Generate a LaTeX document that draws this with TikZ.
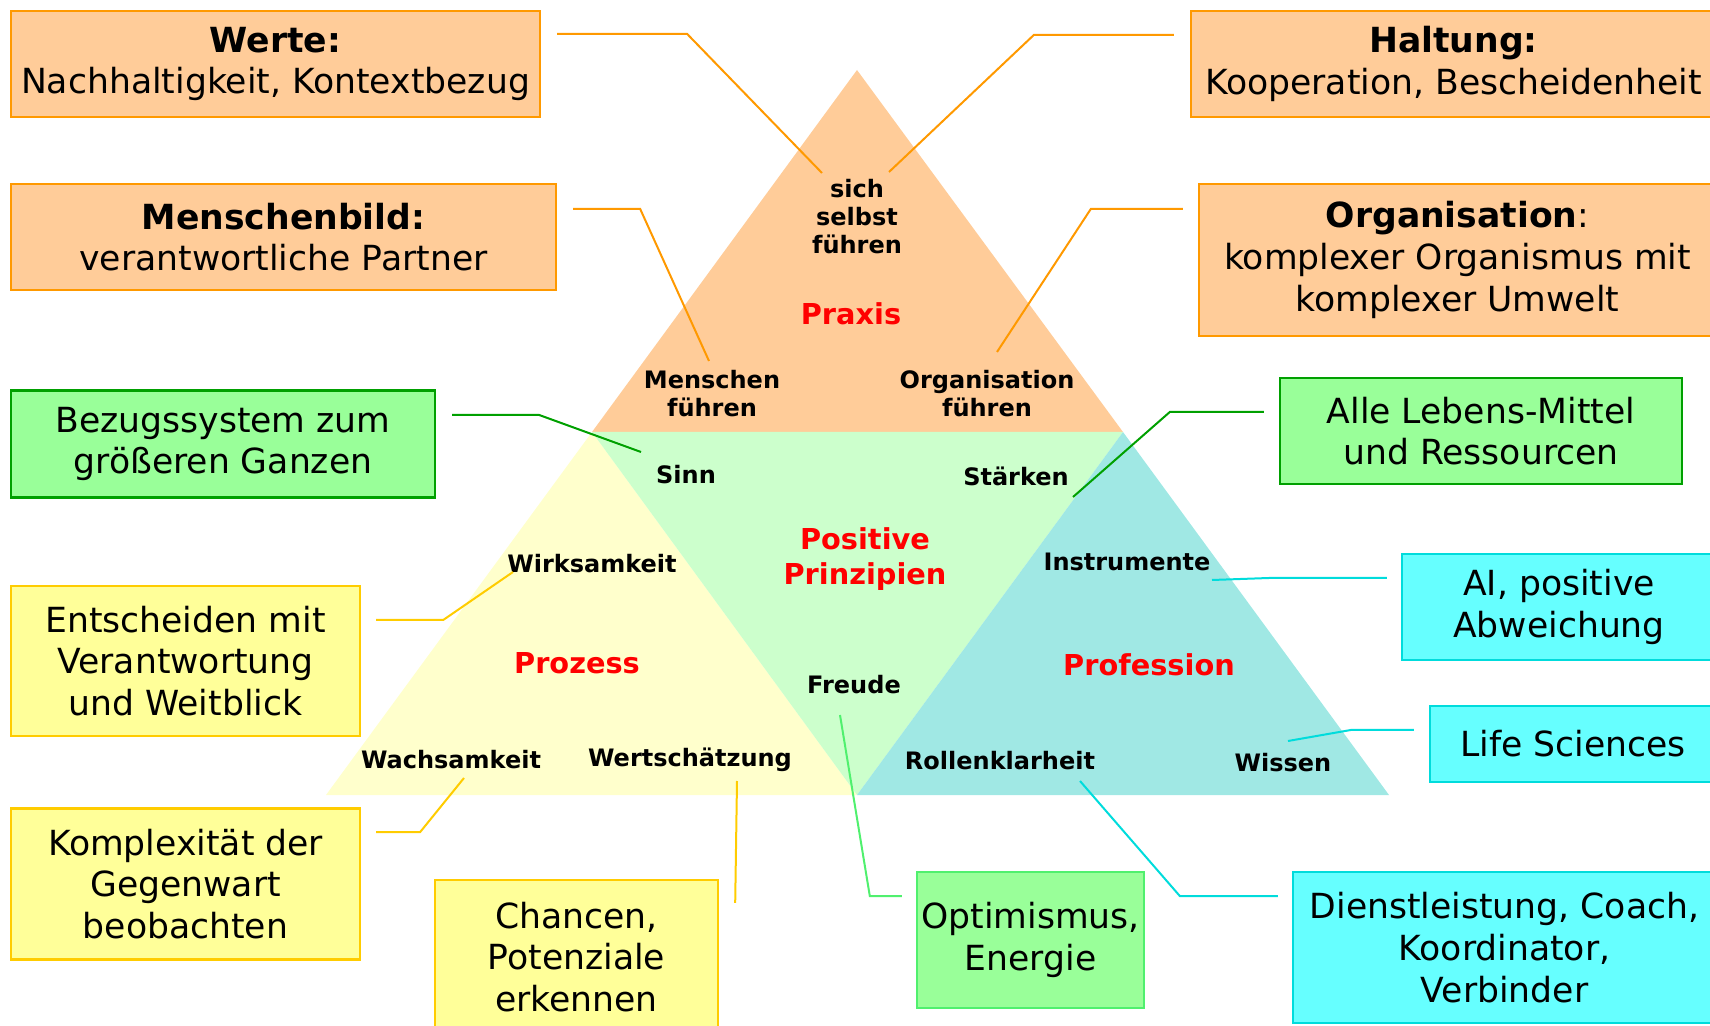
\documentclass[tikz,border=0pt]{standalone}
\usepackage{fontspec}
\setmainfont{DejaVu Sans}
\usepackage{tikz}
\usetikzlibrary{calc}
\definecolor{praxisorange}{RGB}{255,204,153}
\definecolor{prozessyellow}{RGB}{255,255,204}
\definecolor{prinzgreen}{RGB}{204,255,204}
\definecolor{profcyan}{RGB}{160,232,228}
\definecolor{darkorange}{RGB}{255,153,0}
\definecolor{boxgreen}{RGB}{153,255,153}
\definecolor{darkgreen}{RGB}{0,160,0}
\definecolor{lightgreen}{RGB}{80,240,110}
\definecolor{boxyellow}{RGB}{255,255,153}
\definecolor{darkyellow}{RGB}{255,204,0}
\definecolor{boxcyan}{RGB}{102,255,255}
\definecolor{darkcyan}{RGB}{0,220,220}
\newcommand{\boxfont}{\fontsize{17.3}{20.8}\selectfont}
\newcommand{\labfont}{\fontsize{12}{14}\selectfont\bfseries}
\newcommand{\redfont}{\fontsize{14.4}{17.5}\selectfont\bfseries}

\begin{document}
\begin{tikzpicture}[x=0.5pt, y=-0.5pt,
  obox/.style={rectangle, draw=darkorange, fill=praxisorange, line width=1.2pt, inner sep=0pt, align=center, font=\boxfont},
  gbox/.style={rectangle, draw=darkgreen, fill=boxgreen, line width=1.2pt, inner sep=0pt, align=center, font=\boxfont},
  ybox/.style={rectangle, draw=darkyellow, fill=boxyellow, line width=1.2pt, inner sep=0pt, align=center, font=\boxfont},
  cbox/.style={rectangle, draw=darkcyan, fill=boxcyan, line width=1.2pt, inner sep=0pt, align=center, font=\boxfont},
  smalltxt/.style={inner sep=0pt, align=center, font=\labfont},
  redtxt/.style={inner sep=0pt, align=center, text=red, font=\redfont},
  oline/.style={draw=darkorange, line width=1pt},
  gline/.style={draw=darkgreen, line width=1pt},
  lgline/.style={draw=lightgreen, line width=1pt},
  yline/.style={draw=darkyellow, line width=1pt},
  cline/.style={draw=darkcyan, line width=1pt}]
\useasboundingbox (0,0) rectangle (1710,1026);
%

% TRIANGLES
\coordinate (apex) at (857,70);
\coordinate (pl) at (592,432);
\coordinate (pr) at (1123,432);
\coordinate (bl) at (326,795);
\coordinate (bm) at (857,795);
\coordinate (br) at (1389,795);
\fill [praxisorange] (apex) -- (pl) -- (pr) -- cycle;
\fill [prozessyellow] (pl) -- (bl) -- (bm) -- cycle;
\fill [prinzgreen] (pl) -- (pr) -- (bm) -- cycle;
\fill [profcyan] (pr) -- (bm) -- (br) -- cycle;

% PRAXIS
\node [redtxt] (praxis) at (851,314) {Praxis};
\node [smalltxt] (sich) at (857,217) {sich\\selbst\\führen};
\node [smalltxt] (menschenf) at (712,394) {Menschen\\führen};
\node [smalltxt] (orgf) at (987,394) {Organisation\\führen};

% POSITIVE PRINZIPIEN
\node [redtxt] (prinz) at (865,559) {Positive\\Prinzipien};
\node [smalltxt] (sinn) at (686,475) {Sinn};
\node [smalltxt] (staerken) at (1016,476) {Stärken};
\node [smalltxt] (freude) at (854,685) {Freude};

% PROZESS
\node [redtxt] (prozess) at (577,663) {Prozess};
\node [smalltxt] (wirk) at (592,564) {Wirksamkeit};
\node [smalltxt] (wachs) at (451,760) {Wachsamkeit};
\node [smalltxt] (wert) at (690,760) {Wertschätzung};

% PROFESSION
\node [redtxt] (prof) at (1149,665) {Profession};
\node [smalltxt] (instr) at (1127,562) {Instrumente};
\node [smalltxt] (roll) at (1000,761) {Rollenklarheit};
\node [smalltxt] (wissen) at (1283,763) {Wissen};

% ORANGE BOXES
\node [obox, minimum width=264.5pt, minimum height=53pt] (werte) at (275.5,64) {\textbf{Werte:}\\Nachhaltigkeit, Kontextbezug};
\node [obox, minimum width=262.5pt, minimum height=53pt] (haltung) at (1453.5,64) {\textbf{Haltung:}\\Kooperation, Bescheidenheit};
\node [obox, minimum width=272.5pt, minimum height=53pt] (menschen) at (283.5,237) {\textbf{Menschenbild:}\\verantwortliche Partner};
\node [obox, minimum width=258.5pt, minimum height=76pt] (orgbox) at (1457.5,260) {\textbf{Organisation}:\\komplexer Organismus mit\\komplexer Umwelt};

% GREEN BOXES
\node [gbox, minimum width=212pt, minimum height=53.5pt] (bezug) at (223,444) {Bezugssystem zum\\größeren Ganzen};
\node [gbox, minimum width=201pt, minimum height=53pt] (alle) at (1481,431) {Alle Lebens-Mittel\\und Ressourcen};
\node [gbox, draw=lightgreen, minimum width=113.5pt, minimum height=68pt] (optim) at (1030.5,940) {Optimismus,\\Energie};

% YELLOW BOXES
\node [ybox, minimum width=174.5pt, minimum height=75pt] (entsch) at (185.5,661) {Entscheiden mit\\Verantwortung\\und Weitblick};
\node [ybox, minimum width=174.5pt, minimum height=75.5pt] (komplex) at (185.5,884) {Komplexität der\\Gegenwart\\beobachten};
\node [ybox, minimum width=141.5pt, minimum height=77pt] (chancen) at (576.5,957) {Chancen,\\Potenziale\\erkennen};

% CYAN BOXES
\node [cbox, minimum width=157pt, minimum height=53pt] (ai) at (1559,607) {AI, positive\\Abweichung};
\node [cbox, minimum width=143pt, minimum height=38pt] (life) at (1573,744) {Life Sciences};
\node [cbox, minimum width=211.5pt, minimum height=75.5pt] (dienst) at (1504.5,947.5) {Dienstleistung, Coach,\\Koordinator,\\Verbinder};


\draw [oline] ($(werte.east)+(16,-30)$) -- ++(130,0) -- ($(sich)+(-35,-44)$);
\draw [oline] ($(haltung.west)+(-16,-29)$) -- ++(-140,0) -- ($(sich)+(32,-45)$);
\draw [oline] ($(menschen.east)+(16,-28)$) -- ++(67,0) -- ($(menschenf)+(-3,-33)$);
\draw [oline] ($(orgbox.west)+(-15,-51)$) -- ++(-92,0) -- ($(orgf)+(10,-42)$);
\draw [gline] ($(bezug.east)+(16,-29)$) -- ++(87,0) -- ($(sinn)+(-45,-23)$);
\draw [gline] ($(alle.west)+(-15,-19)$) -- ++(-94,0) -- ($(staerken)+(57,21)$);
\draw [yline] ($(entsch.east)+(15,-41)$) -- ++(67,0) -- ($(wirk)+(-79,8)$);
\draw [yline] ($(komplex.east)+(15,-52)$) -- ++(44,0) -- ($(wachs)+(13,18)$);
\draw [yline] ($(chancen.north east)+(16,24)$) -- ($(wert)+(47,21)$);
\draw [lgline] ($(optim.west)+(-14,-44)$) -- ++(-32,0) -- ($(freude)+(-14,30)$);
\draw [cline] ($(ai.west)+(-14,-29)$) -- ++(-118,0) -- ($(instr)+(85,18)$);
\draw [cline] ($(life.west)+(-15,-14)$) -- ++(-63,0) -- ($(wissen)+(5,-22)$);
\draw [cline] ($(dienst.west)+(-14,-51.5)$) -- ++(-98,0) -- ($(roll)+(80,20)$);
\end{tikzpicture}
\end{document}
